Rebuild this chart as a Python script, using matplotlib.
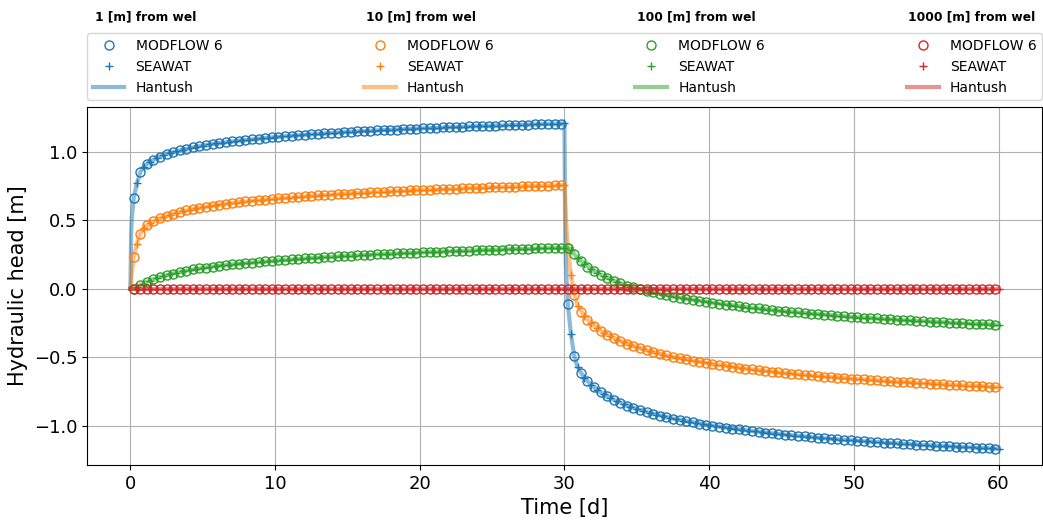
import matplotlib
matplotlib.use("Agg")
import matplotlib.pyplot as plt

# output times [d]
time_mf6 = [
    0.23, 0.68, 1.14, 1.59, 2.05, 2.50, 2.95, 3.41, 3.86, 4.32, 4.77, 5.23, 5.68, 6.14, 6.59, 7.05, 7.50,
    7.95, 8.41, 8.86, 9.32, 9.77, 10.23, 10.68, 11.14, 11.59, 12.05, 12.50, 12.95, 13.41, 13.86, 14.32,
    14.77, 15.23, 15.68, 16.14, 16.59, 17.05, 17.50, 17.95, 18.41, 18.86, 19.32, 19.77, 20.23, 20.68,
    21.14, 21.59, 22.05, 22.50, 22.95, 23.41, 23.86, 24.32, 24.77, 25.23, 25.68, 26.14, 26.59, 27.05,
    27.50, 27.95, 28.41, 28.86, 29.32, 29.77,
    30.23, 30.68, 31.14, 31.59, 32.05, 32.50, 32.95, 33.41, 33.86, 34.32, 34.77, 35.23, 35.68, 36.14,
    36.59, 37.05, 37.50, 37.95, 38.41, 38.86, 39.32, 39.77, 40.23, 40.68, 41.14, 41.59, 42.05, 42.50,
    42.95, 43.41, 43.86, 44.32, 44.77, 45.23, 45.68, 46.14, 46.59, 47.05, 47.50, 47.95, 48.41, 48.86,
    49.32, 49.77, 50.23, 50.68, 51.14, 51.59, 52.05, 52.50, 52.95, 53.41, 53.86, 54.32, 54.77, 55.23,
    55.68, 56.14, 56.59, 57.05, 57.50, 57.95, 58.41, 58.86, 59.32, 59.77,
]
time_seawat = [
    0.45, 0.91, 1.36, 1.82, 2.27, 2.73, 3.18, 3.64, 4.09, 4.55, 5.00, 5.45, 5.91, 6.36, 6.82, 7.27, 7.73,
    8.18, 8.64, 9.09, 9.55, 10.00, 10.45, 10.91, 11.36, 11.82, 12.27, 12.73, 13.18, 13.64, 14.09, 14.55,
    15.00, 15.45, 15.91, 16.36, 16.82, 17.27, 17.73, 18.18, 18.64, 19.09, 19.55, 20.00, 20.45, 20.91,
    21.36, 21.82, 22.27, 22.73, 23.18, 23.64, 24.09, 24.55, 25.00, 25.45, 25.91, 26.36, 26.82, 27.27,
    27.73, 28.18, 28.64, 29.09, 29.55, 30.00,
    30.45, 30.91, 31.36, 31.82, 32.27, 32.73, 33.18, 33.64, 34.09, 34.55, 35.00, 35.45, 35.91, 36.36,
    36.82, 37.27, 37.73, 38.18, 38.64, 39.09, 39.55, 40.00, 40.45, 40.91, 41.36, 41.82, 42.27, 42.73,
    43.18, 43.64, 44.09, 44.55, 45.00, 45.45, 45.91, 46.36, 46.82, 47.27, 47.73, 48.18, 48.64, 49.09,
    49.55, 50.00, 50.45, 50.91, 51.36, 51.82, 52.27, 52.73, 53.18, 53.64, 54.09, 54.55, 55.00, 55.45,
    55.91, 56.36, 56.82, 57.27, 57.73, 58.18, 58.64, 59.09, 59.55, 60.00,
]
time_hantush = [
    0.0, 0.05, 0.1, 0.23, 0.45, 0.68, 0.91, 1.36, 1.82, 2.5, 3.41, 4.55, 5.91, 7.5, 10.0, 12.5, 15.0,
    17.5, 20.0, 22.5, 25.0, 27.5, 30.0,
    30.05, 30.1, 30.23, 30.45, 30.68, 30.91, 31.36, 31.82, 32.5, 33.41, 34.55, 35.91, 37.5, 40.0, 42.5,
    45.0, 47.5, 50.0, 52.5, 55.0, 57.5, 60.0,
]

# MODFLOW 6 heads [m]
mf6_1m = [
    0.66, 0.85, 0.912, 0.942, 0.964, 0.982, 0.998, 1.010, 1.022, 1.032, 1.041, 1.049, 1.056, 1.063,
    1.070, 1.076, 1.081, 1.087, 1.092, 1.096, 1.101, 1.105, 1.109, 1.113, 1.117, 1.121, 1.124, 1.127,
    1.131, 1.134, 1.137, 1.140, 1.142, 1.145, 1.148, 1.150, 1.153, 1.155, 1.158, 1.160, 1.162, 1.164,
    1.167, 1.169, 1.171, 1.173, 1.175, 1.177, 1.178, 1.180, 1.182, 1.184, 1.186, 1.187, 1.189, 1.191,
    1.192, 1.194, 1.195, 1.197, 1.198, 1.200, 1.201, 1.203, 1.204, 1.205,
    -0.114, -0.493, -0.616, -0.676, -0.720, -0.756, -0.785, -0.810, -0.832, -0.852, -0.869, -0.885,
    -0.899, -0.913, -0.925, -0.936, -0.947, -0.957, -0.966, -0.975, -0.984, -0.992, -0.999, -1.007,
    -1.013, -1.020, -1.026, -1.032, -1.038, -1.044, -1.049, -1.054, -1.060, -1.064, -1.069, -1.074,
    -1.078, -1.082, -1.087, -1.091, -1.095, -1.098, -1.102, -1.106, -1.109, -1.112, -1.116, -1.119,
    -1.122, -1.125, -1.128, -1.131, -1.134, -1.137, -1.140, -1.142, -1.145, -1.148, -1.150, -1.153,
    -1.155, -1.157, -1.160, -1.162, -1.164, -1.166,
]
mf6_10m = [
    0.23, 0.40, 0.462, 0.492, 0.514, 0.532, 0.548, 0.560, 0.572, 0.582, 0.591, 0.599, 0.606, 0.613,
    0.620, 0.626, 0.631, 0.637, 0.642, 0.646, 0.651, 0.655, 0.659, 0.663, 0.667, 0.671, 0.674, 0.677,
    0.681, 0.684, 0.687, 0.690, 0.692, 0.695, 0.698, 0.700, 0.703, 0.705, 0.708, 0.710, 0.712, 0.714,
    0.717, 0.719, 0.721, 0.723, 0.725, 0.727, 0.728, 0.730, 0.732, 0.734, 0.736, 0.737, 0.739, 0.741,
    0.742, 0.744, 0.745, 0.747, 0.748, 0.750, 0.751, 0.753, 0.754, 0.755,
    0.296, -0.043, -0.166, -0.226, -0.270, -0.306, -0.335, -0.360, -0.382, -0.402, -0.419, -0.435,
    -0.449, -0.463, -0.475, -0.486, -0.497, -0.507, -0.516, -0.525, -0.534, -0.542, -0.549, -0.557,
    -0.563, -0.570, -0.576, -0.582, -0.588, -0.594, -0.599, -0.604, -0.610, -0.614, -0.619, -0.624,
    -0.628, -0.632, -0.637, -0.641, -0.645, -0.648, -0.652, -0.656, -0.659, -0.662, -0.666, -0.669,
    -0.672, -0.675, -0.678, -0.681, -0.684, -0.687, -0.690, -0.692, -0.695, -0.698, -0.700, -0.703,
    -0.705, -0.707, -0.710, -0.712, -0.714, -0.716,
]
mf6_100m = [
    0.0, 0.025, 0.05, 0.07, 0.087, 0.10, 0.111, 0.123, 0.132, 0.141, 0.148, 0.155, 0.162, 0.167,
    0.173, 0.178, 0.183, 0.187, 0.191, 0.195, 0.199, 0.203, 0.207, 0.211, 0.214, 0.218, 0.221, 0.224,
    0.227, 0.230, 0.233, 0.236, 0.239, 0.241, 0.244, 0.246, 0.249, 0.251, 0.253, 0.255, 0.258, 0.260,
    0.262, 0.264, 0.266, 0.268, 0.269, 0.271, 0.273, 0.275, 0.276, 0.278, 0.280, 0.281, 0.283, 0.285,
    0.286, 0.288, 0.289, 0.291, 0.292, 0.294, 0.295, 0.296, 0.297, 0.299,
    0.300, 0.251, 0.201, 0.162, 0.128, 0.103, 0.082, 0.058, 0.041, 0.023, 0.010, -0.004, -0.017,
    -0.027, -0.038, -0.048, -0.057, -0.065, -0.072, -0.080, -0.087, -0.094, -0.102, -0.109, -0.115,
    -0.122, -0.128, -0.133, -0.139, -0.144, -0.150, -0.155, -0.160, -0.164, -0.169, -0.173, -0.178,
    -0.182, -0.185, -0.189, -0.194, -0.198, -0.201, -0.205, -0.208, -0.210, -0.214, -0.217, -0.220,
    -0.223, -0.226, -0.229, -0.231, -0.234, -0.237, -0.239, -0.242, -0.244, -0.247, -0.249, -0.252,
    -0.254, -0.256, -0.258, -0.260, -0.262,
]
mf6_1000m = [0.0] * 132

# SEAWAT heads [m]
seawat_1m = [
    0.77, 0.89, 0.928, 0.954, 0.974, 0.990, 1.004, 1.016, 1.027, 1.036, 1.045, 1.053, 1.060, 1.067,
    1.073, 1.079, 1.084, 1.089, 1.094, 1.099, 1.103, 1.107, 1.111, 1.115, 1.119, 1.122, 1.126, 1.129,
    1.132, 1.135, 1.138, 1.141, 1.144, 1.146, 1.149, 1.152, 1.154, 1.156, 1.159, 1.161, 1.163, 1.165,
    1.168, 1.170, 1.172, 1.174, 1.176, 1.177, 1.179, 1.181, 1.183, 1.185, 1.186, 1.188, 1.190, 1.191,
    1.193, 1.194, 1.196, 1.198, 1.199, 1.200, 1.202, 1.203, 1.205, 1.206,
    -0.333, -0.573, -0.648, -0.699, -0.739, -0.771, -0.798, -0.822, -0.842, -0.861, -0.877, -0.892,
    -0.906, -0.919, -0.931, -0.942, -0.952, -0.962, -0.971, -0.980, -0.988, -0.995, -1.003, -1.010,
    -1.017, -1.023, -1.030, -1.035, -1.041, -1.047, -1.052, -1.057, -1.062, -1.067, -1.071, -1.076,
    -1.080, -1.084, -1.089, -1.092, -1.096, -1.100, -1.104, -1.107, -1.111, -1.114, -1.118, -1.121,
    -1.124, -1.127, -1.130, -1.133, -1.136, -1.138, -1.141, -1.144, -1.146, -1.149, -1.151, -1.154,
    -1.156, -1.158, -1.161, -1.163, -1.165, -1.167,
]
seawat_10m = [
    0.33, 0.44, 0.478, 0.504, 0.524, 0.540, 0.554, 0.566, 0.577, 0.586, 0.595, 0.603, 0.610, 0.617,
    0.623, 0.629, 0.634, 0.639, 0.644, 0.649, 0.653, 0.657, 0.661, 0.665, 0.669, 0.672, 0.676, 0.679,
    0.682, 0.685, 0.688, 0.691, 0.694, 0.696, 0.699, 0.702, 0.704, 0.706, 0.709, 0.711, 0.713, 0.715,
    0.718, 0.720, 0.722, 0.724, 0.726, 0.727, 0.729, 0.731, 0.733, 0.735, 0.736, 0.738, 0.740, 0.741,
    0.743, 0.744, 0.746, 0.748, 0.749, 0.750, 0.752, 0.753, 0.755, 0.756,
    0.097, -0.123, -0.198, -0.249, -0.289, -0.321, -0.348, -0.372, -0.392, -0.411, -0.427, -0.442,
    -0.456, -0.469, -0.481, -0.492, -0.502, -0.512, -0.521, -0.530, -0.538, -0.545, -0.553, -0.560,
    -0.567, -0.573, -0.580, -0.585, -0.591, -0.597, -0.602, -0.607, -0.612, -0.617, -0.621, -0.626,
    -0.630, -0.634, -0.639, -0.642, -0.646, -0.650, -0.654, -0.657, -0.661, -0.664, -0.668, -0.671,
    -0.674, -0.677, -0.680, -0.683, -0.686, -0.688, -0.691, -0.694, -0.696, -0.699, -0.701, -0.704,
    -0.706, -0.708, -0.711, -0.713, -0.715, -0.717,
]
seawat_100m = [
    0.01, 0.038, 0.06, 0.079, 0.094, 0.106, 0.117, 0.128, 0.137, 0.145, 0.152, 0.158, 0.165, 0.170,
    0.175, 0.180, 0.185, 0.189, 0.193, 0.197, 0.201, 0.205, 0.209, 0.213, 0.216, 0.219, 0.223, 0.226,
    0.229, 0.232, 0.235, 0.237, 0.240, 0.242, 0.245, 0.247, 0.250, 0.252, 0.254, 0.256, 0.259, 0.261,
    0.263, 0.265, 0.267, 0.268, 0.270, 0.272, 0.274, 0.276, 0.277, 0.279, 0.281, 0.282, 0.284, 0.285,
    0.287, 0.288, 0.290, 0.291, 0.293, 0.294, 0.295, 0.297, 0.298, 0.299,
    0.281, 0.225, 0.182, 0.144, 0.115, 0.091, 0.070, 0.048, 0.031, 0.015, 0.002, -0.010, -0.023,
    -0.032, -0.042, -0.051, -0.061, -0.068, -0.076, -0.083, -0.091, -0.098, -0.106, -0.113, -0.119,
    -0.124, -0.131, -0.137, -0.142, -0.148, -0.153, -0.157, -0.162, -0.166, -0.171, -0.175, -0.180,
    -0.184, -0.187, -0.190, -0.196, -0.199, -0.203, -0.206, -0.210, -0.212, -0.215, -0.219, -0.221,
    -0.224, -0.227, -0.230, -0.233, -0.235, -0.238, -0.241, -0.243, -0.246, -0.248, -0.250, -0.253,
    -0.255, -0.257, -0.259, -0.261, -0.263,
]
seawat_1000m = [0.0] * 132

# Hantush analytical solution [m]
hantush_1m = [
    0.0, 0.40, 0.52, 0.66, 0.77, 0.85, 0.89, 0.928, 0.954, 0.982, 1.010, 1.036, 1.060, 1.081, 1.107,
    1.127, 1.144, 1.158, 1.170, 1.180, 1.190, 1.198, 1.206,
    0.406, 0.166, -0.114, -0.333, -0.493, -0.573, -0.648, -0.699, -0.756, -0.810, -0.861, -0.906,
    -0.947, -0.995, -1.032, -1.062, -1.087, -1.107, -1.125, -1.141, -1.155, -1.167,
]
hantush_10m = [
    0.0, 0.05, 0.12, 0.23, 0.33, 0.40, 0.44, 0.478, 0.504, 0.532, 0.560, 0.586, 0.610, 0.631, 0.657,
    0.677, 0.694, 0.708, 0.720, 0.730, 0.740, 0.748, 0.756,
    0.656, 0.516, 0.296, 0.097, -0.043, -0.123, -0.198, -0.249, -0.306, -0.360, -0.411, -0.456,
    -0.497, -0.545, -0.582, -0.612, -0.637, -0.657, -0.675, -0.691, -0.705, -0.717,
]
hantush_100m = [
    0.0, 0.0, 0.0, 0.0, 0.01, 0.025, 0.038, 0.06, 0.079, 0.10, 0.123, 0.145, 0.165, 0.183, 0.205,
    0.224, 0.240, 0.253, 0.265, 0.275, 0.284, 0.292, 0.299,
    0.300, 0.300, 0.300, 0.281, 0.251, 0.225, 0.182, 0.144, 0.103, 0.058, 0.015, -0.023,
    -0.057, -0.098, -0.133, -0.162, -0.185, -0.206, -0.223, -0.238, -0.252, -0.263,
]
hantush_1000m = [0.0] * 45

distances = ["1", "10", "100", "1000"]
mf6_heads = [mf6_1m, mf6_10m, mf6_100m, mf6_1000m]
seawat_heads = [seawat_1m, seawat_10m, seawat_100m, seawat_1000m]
hantush_heads = [hantush_1m, hantush_10m, hantush_100m, hantush_1000m]
colors = ["C0", "C1", "C2", "C3"]

fig = plt.figure(figsize=(10.43, 5.23), dpi=100)
ax = fig.add_axes([0.0834, 0.111, 0.9156, 0.684])

for i in range(4):
    ax.plot(time_mf6, mf6_heads[i], "o", mfc="none", mec=colors[i], ms=6.5, mew=1.0, label="MODFLOW 6")
    ax.plot(time_seawat, seawat_heads[i], "+", color=colors[i], ms=6, mew=1.0, label="SEAWAT")
    ax.plot(time_hantush, hantush_heads[i], "-", color=colors[i], lw=3, alpha=0.5, label="Hantush")

ax.grid(True, color="#b0b0b0", lw=0.8)
ax.set_yticks([-1.0, -0.5, 0.0, 0.5, 1.0])
ax.tick_params(labelsize=13)
ax.set_xlabel("Time [d]", fontsize=15)
ax.set_ylabel("Hydraulic head [m]", fontsize=15)

ax.legend(ncol=4, loc="lower left", bbox_to_anchor=(0.0, 1.02, 1.0, 0.1), mode="expand",
          borderaxespad=0.0, fontsize=10, handlelength=2.3)

# column headers above the legend
for x, d in zip([95, 366, 637, 908], distances):
    fig.text(x / 1043, 0.967, d + " [m] from wel", fontsize=8.8, fontweight="bold", ha="left", va="center")

fig.savefig("out.png", dpi=100)
